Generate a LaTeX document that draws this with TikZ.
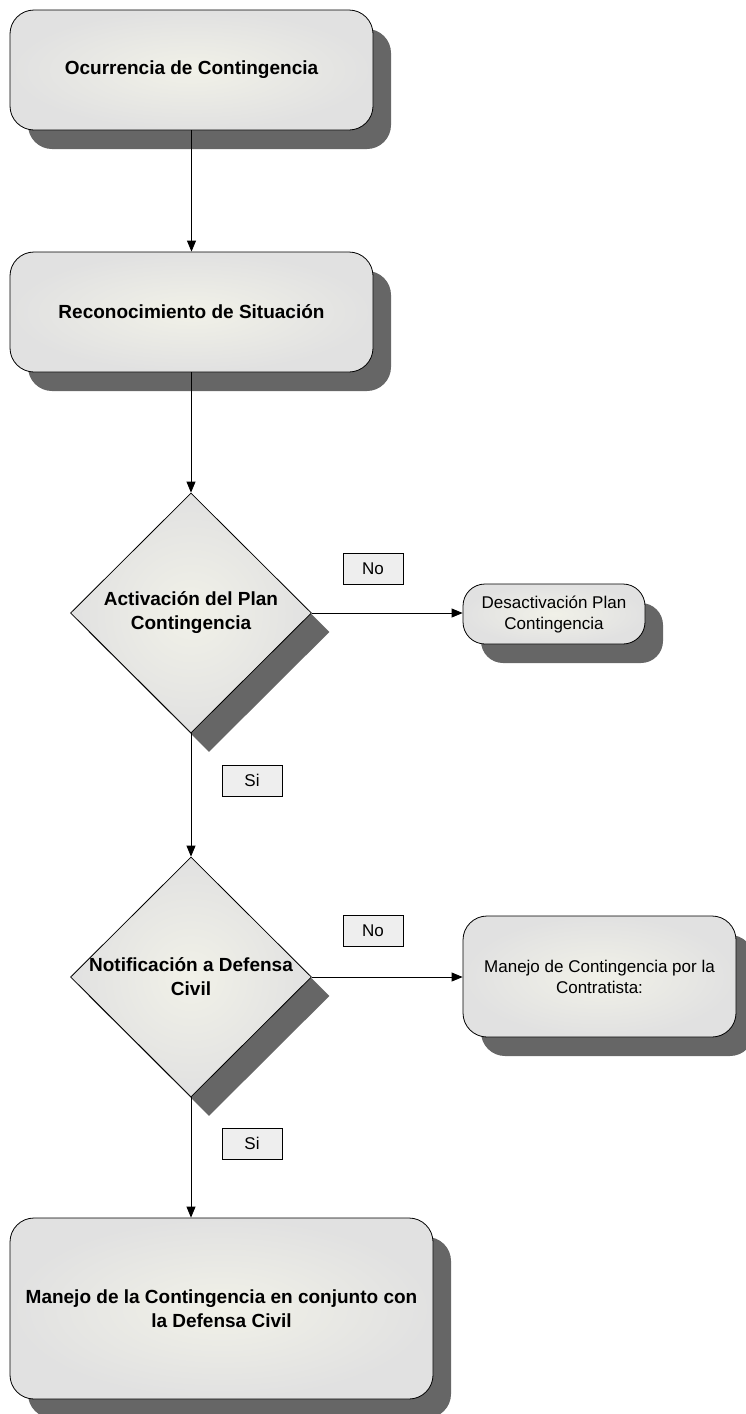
\documentclass[tikz,border=0pt]{standalone}
\usepackage{fontspec}
\setmainfont{Liberation Sans}
\usetikzlibrary{shapes.geometric}
\usetikzlibrary{shadows}
\usetikzlibrary{arrows.meta}
\definecolor{boxcentre}{RGB}{241,241,232}
\definecolor{boxrim}{RGB}{225,225,225}
\definecolor{shadowgrey}{RGB}{102,102,102}
\definecolor{tagfill}{RGB}{238,238,238}
\tikzset{
    stepbox/.style={draw, line width=0.8pt, rounded corners=24pt, align=center,
        inner color=boxcentre, outer color=boxrim,
        drop shadow={shadow xshift=18pt, shadow yshift=-19pt, opacity=1, fill=shadowgrey}},
    boldtext/.style={font=\fontsize{19}{24}\selectfont\bfseries},
    plaintext/.style={font=\fontsize{17}{21}\selectfont},
    decision/.style={diamond, draw, line width=0.8pt, inner sep=0pt,
        minimum width=241pt, minimum height=240pt,
        inner color=boxcentre, outer color=boxrim,
        drop shadow={shadow xshift=18pt, shadow yshift=-19pt, opacity=1, fill=shadowgrey}},
    answer/.style={draw, line width=0.6pt, fill=tagfill, minimum width=60pt, minimum height=31pt,
        inner sep=0pt, font=\fontsize{17}{21}\selectfont}
}

\begin{document}
\begin{tikzpicture}[x=1pt, y=-1pt, >={Triangle[length=11pt,width=9pt]}]
        \useasboundingbox (0,0) rectangle (745,1414);

        \node[stepbox, boldtext, minimum width=363pt, minimum height=120pt] (ocurr)    at (191.5,70)    {Ocurrencia de Contingencia};
        \node[stepbox, boldtext, minimum width=363pt, minimum height=120pt] (recon)    at (191.5,312)   {Reconocimiento de Situación};
        \node[decision, label={[boldtext, align=center]center:Activación del Plan\\Contingencia}]  (activ) at (191,613) {};
        \node[stepbox, plaintext, rounded corners=22pt, minimum width=182pt, minimum height=60pt] (desact) at (554,614) {Desactivación Plan\\Contingencia};
        \node[decision, label={[boldtext, align=center]center:Notificación a Defensa\\Civil}]     (notif) at (191,977) {};
        \node[stepbox, plaintext, minimum width=273pt, minimum height=121pt] (contrat)  at (599.5,976.5) {Manejo de Contingencia por la\\Contratista:};
        \node[stepbox, boldtext, minimum width=423pt, minimum height=181pt] (conjunto) at (221.5,1308.5) {Manejo de la Contingencia en conjunto con\\la Defensa Civil};

        \node[answer] (no1) at (373,568.5)  {No};
        \node[answer] (si1) at (252,780.5)  {Si};
        \node[answer] (no2) at (373,931)    {No};
        \node[answer] (si2) at (252,1143.5) {Si};

        \draw[->, line width=0.8pt] (ocurr) -- (recon);
        \draw[->, line width=0.8pt] (activ.north |- recon.south) -- (activ.north);
        \draw[->, line width=0.8pt] (activ.east) -- (activ.east -| desact.west);
        \draw[->, line width=0.8pt] (activ.south) -- (notif.north);
        \draw[->, line width=0.8pt] (notif.east) -- (notif.east -| contrat.west);
        \draw[->, line width=0.8pt] (notif.south) -- (notif.south |- conjunto.north);
    \end{tikzpicture}
\end{document}
